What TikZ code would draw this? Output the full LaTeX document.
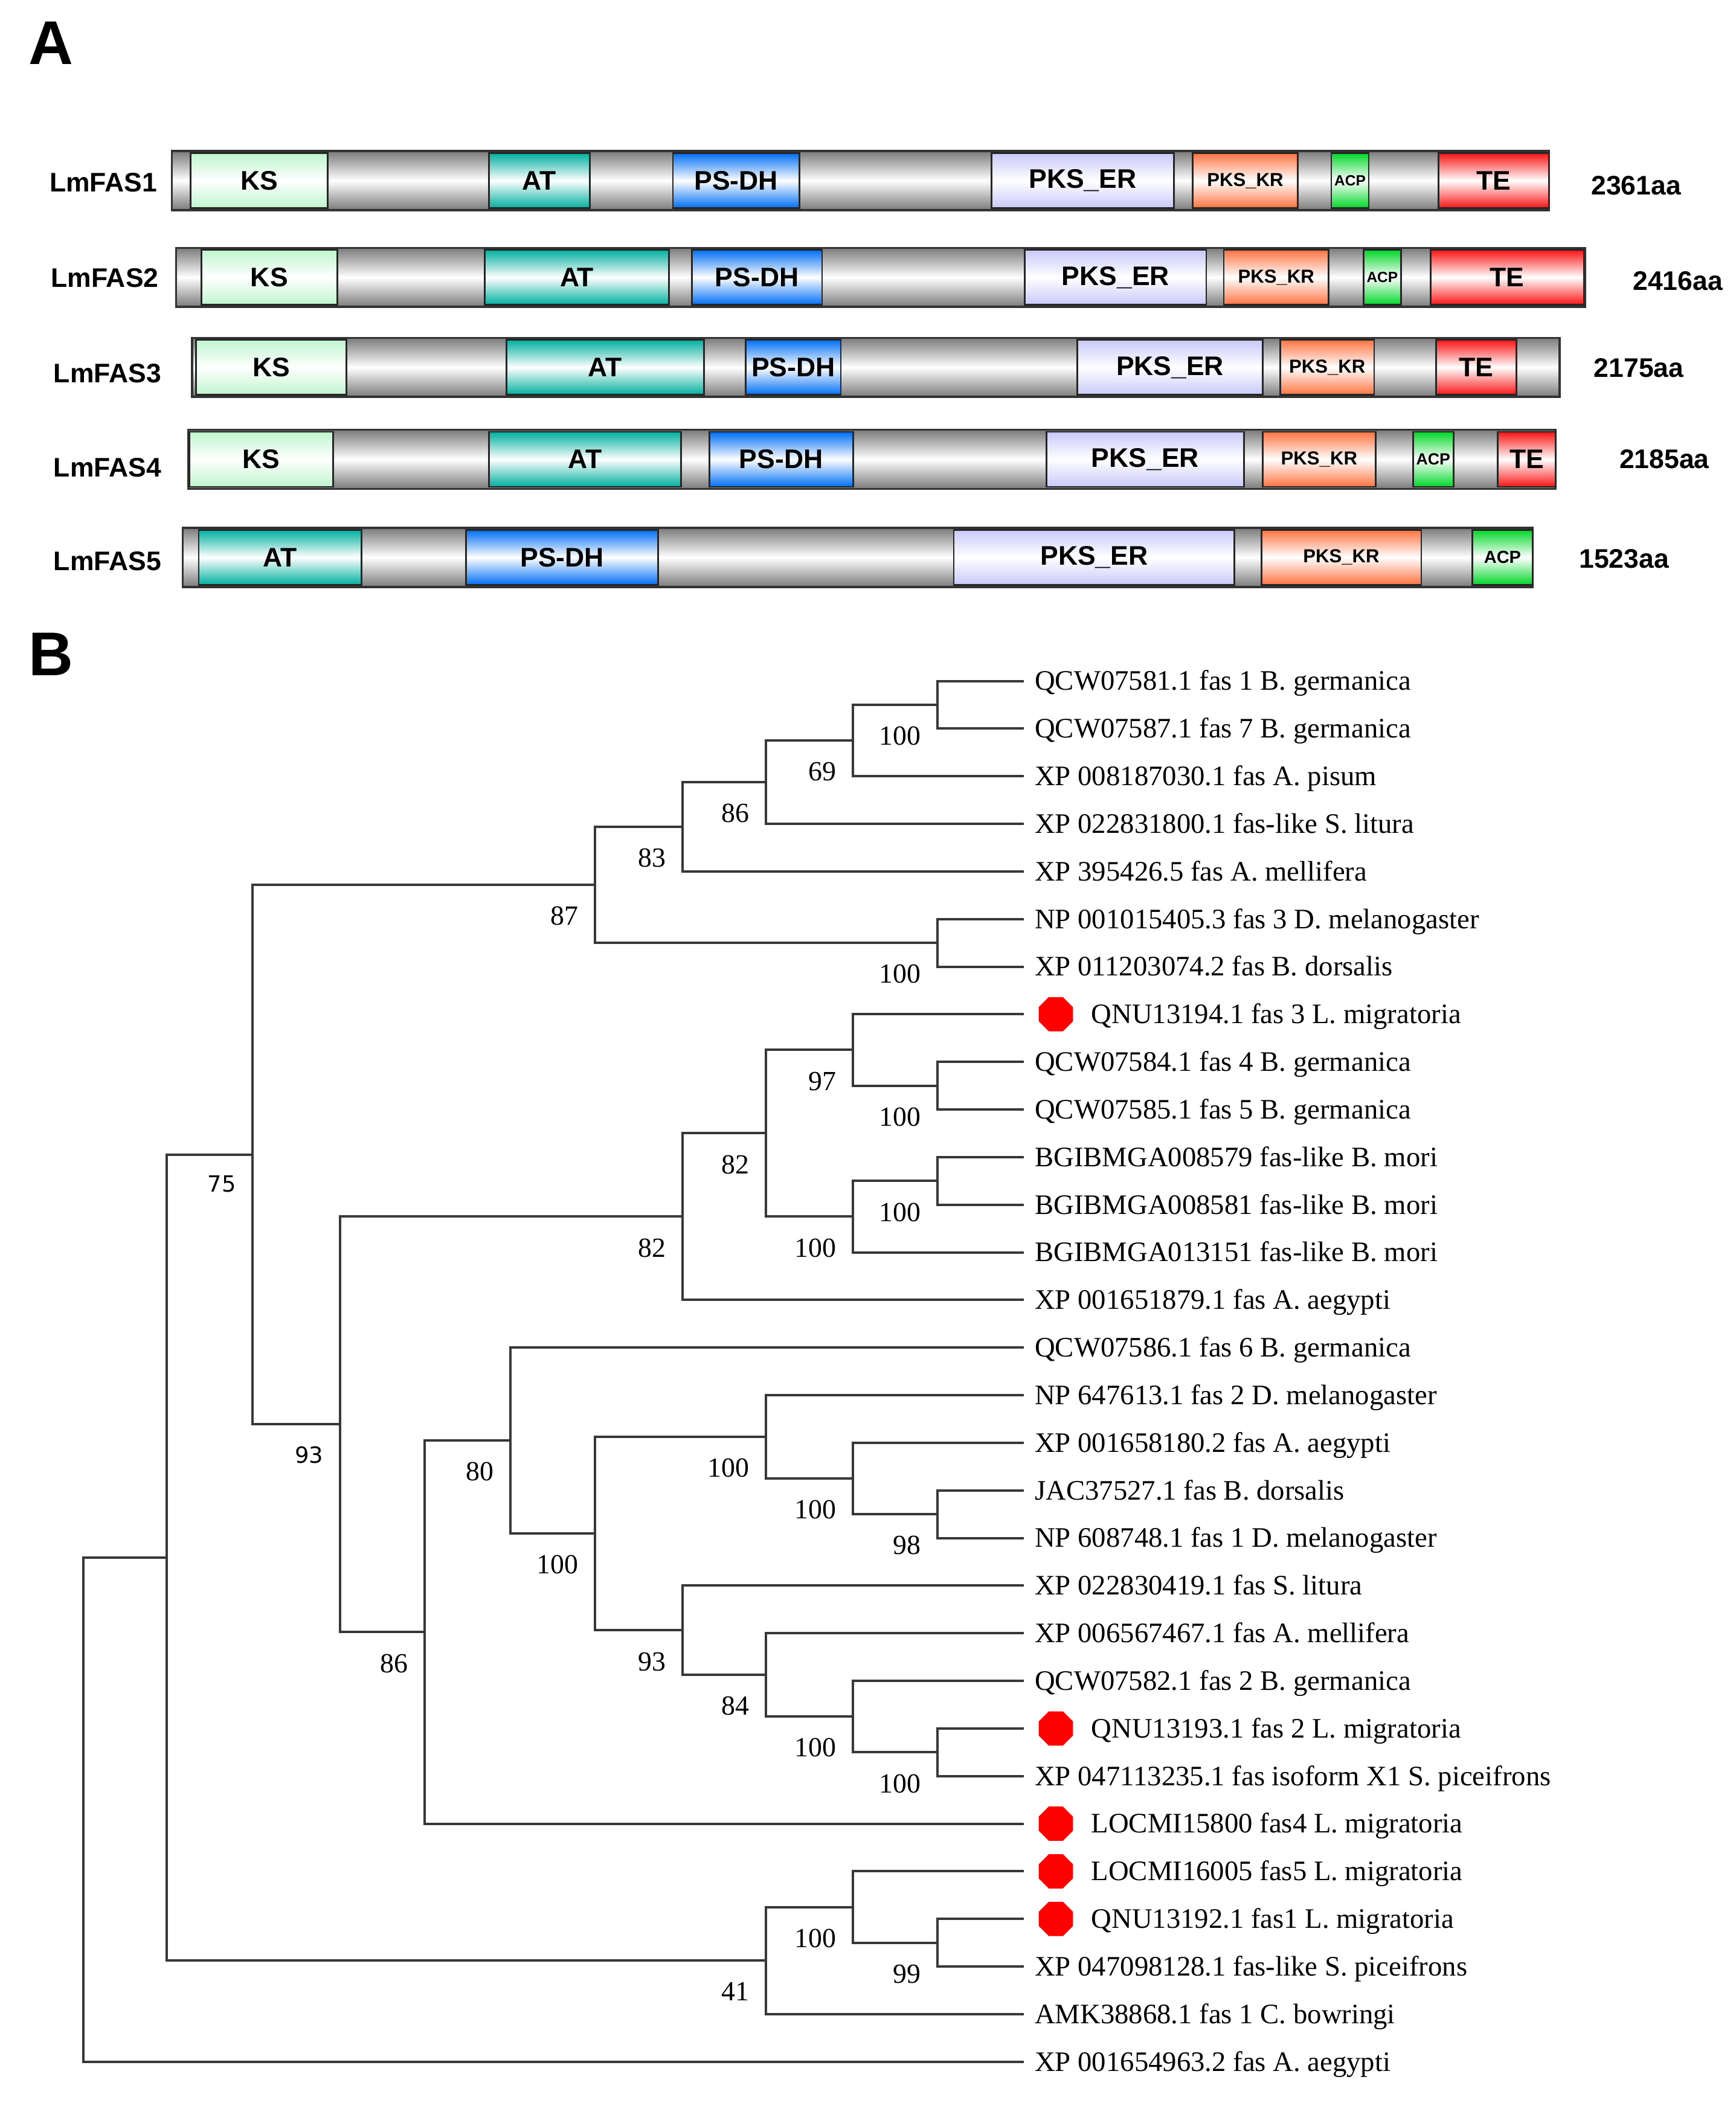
\documentclass[tikz,border=0pt]{standalone}
\usepackage{fontspec}
\setmainfont{Liberation Serif}
\newfontfamily\arialf{Liberation Sans}
\newfontfamily\dejav{DejaVu Sans}
\usetikzlibrary{shapes.geometric}
\definecolor{ksC}{RGB}{190,245,205}
\definecolor{atC}{RGB}{0,175,158}
\definecolor{dhC}{RGB}{0,110,245}
\definecolor{erC}{RGB}{200,200,250}
\definecolor{krC}{RGB}{255,115,65}
\definecolor{acpC}{RGB}{0,215,40}
\definecolor{teC}{RGB}{250,20,20}
\tikzset{
  treeline/.style={draw=black!78, line width=0.9pt},
  leaflab/.style={anchor=west, inner sep=0pt, font=\fontsize{10.5}{12}\selectfont, text height=6.9pt, text depth=0pt},
  bsl/.style={anchor=east, inner sep=0pt, font=\fontsize{10.3}{12}\selectfont, text height=7pt, text depth=0pt},
  bsls/.style={anchor=east, inner sep=0pt, font=\dejav\fontsize{8.3}{10}\selectfont, text height=6pt, text depth=0pt},
  reddot/.style={regular polygon, regular polygon sides=8, minimum size=13.8pt, fill=red, draw=none, inner sep=0pt},
  barbox/.style={draw=black!80, line width=0.8pt, top color=black!52, bottom color=black!52, middle color=white, minimum height=22pt, inner sep=0pt, outer sep=0pt},
  dombox/.style={draw=black!85, line width=0.6pt, minimum height=20.5pt, inner sep=0pt, outer sep=0pt, text=black},
  rowlab/.style={font=\arialf\bfseries\fontsize{10}{12}\selectfont, inner sep=0pt},
  panellab/.style={font=\arialf\bfseries\fontsize{23}{26}\selectfont, inner sep=0pt},
}
% name, x1, x2, yc
\newcommand\protbar[4]{\node[barbox, minimum width={(#3-#2)*0.5pt}] (#1) at ({(#2+#3)/2},#4) {};}
% name, x1, x2, yc, color, fontsize, text
\newcommand\dom[7]{\node[dombox, top color=#5, bottom color=#5, middle color=white, minimum width={(#3-#2)*0.5pt}, font=\arialf\bfseries\fontsize{#6}{#6}\selectfont] (#1) at ({(#2+#3)/2},#4) {#7};}
\begin{document}
\begin{tikzpicture}[x=0.5pt,y=-0.5pt]
\path[use as bounding box] (0,0) rectangle (1292,1568);

% ---------------- Panel A ----------------
\node[panellab] (labA) at (38,32) {A};

% LmFAS1
\protbar{bar1}{128}{1153}{134.5}
\dom{f1ks}{142}{244}{134.5}{ksC}{10}{KS}
\dom{f1at}{364}{439}{134.5}{atC}{10}{AT}
\dom{f1dh}{501}{595}{134.5}{dhC}{10}{PS-DH}
\dom{f1er}{738}{874}{134.5}{erC}{10}{PKS\_ER}
\dom{f1kr}{888}{966}{134.5}{krC}{7}{PKS\_KR}
\dom{f1acp}{991}{1019}{134.5}{acpC}{5.5}{ACP}
\dom{f1te}{1071}{1153}{134.5}{teC}{10}{TE}
\node[rowlab] (r1) at (77,136) {LmFAS1};
\node[rowlab] (len1) at (1218,138) {2361aa};

% LmFAS2
\protbar{bar2}{131}{1180}{206.5}
\dom{f2ks}{150}{251}{206.5}{ksC}{10}{KS}
\dom{f2at}{361}{498}{206.5}{atC}{10}{AT}
\dom{f2dh}{515}{612}{206.5}{dhC}{10}{PS-DH}
\dom{f2er}{763}{898}{206.5}{erC}{10}{PKS\_ER}
\dom{f2kr}{911}{989}{206.5}{krC}{7}{PKS\_KR}
\dom{f2acp}{1015}{1043}{206.5}{acpC}{5.5}{ACP}
\dom{f2te}{1065}{1179}{206.5}{teC}{10}{TE}
\node[rowlab] (r2) at (78,207) {LmFAS2};
\node[rowlab] (len2) at (1249,209) {2416aa};

% LmFAS3
\protbar{bar3}{143}{1161}{273.5}
\dom{f3ks}{146}{258}{273.5}{ksC}{10}{KS}
\dom{f3at}{377}{524}{273.5}{atC}{10}{AT}
\dom{f3dh}{555}{626}{273.5}{dhC}{10}{PS-DH}
\dom{f3er}{802}{940}{273.5}{erC}{10}{PKS\_ER}
\dom{f3kr}{953}{1023}{273.5}{krC}{7}{PKS\_KR}
\dom{f3te}{1069}{1129}{273.5}{teC}{10}{TE}
\node[rowlab] (r3) at (80,278) {LmFAS3};
\node[rowlab] (len3) at (1220,274) {2175aa};

% LmFAS4
\protbar{bar4}{140}{1158}{342}
\dom{f4ks}{141}{248}{342}{ksC}{10}{KS}
\dom{f4at}{364}{507}{342}{atC}{10}{AT}
\dom{f4dh}{528}{635}{342}{dhC}{10}{PS-DH}
\dom{f4er}{779}{926}{342}{erC}{10}{PKS\_ER}
\dom{f4kr}{940}{1024}{342}{krC}{7}{PKS\_KR}
\dom{f4acp}{1052}{1082}{342}{acpC}{6}{ACP}
\dom{f4te}{1115}{1158}{342}{teC}{10}{TE}
\node[rowlab] (r4) at (80,348) {LmFAS4};
\node[rowlab] (len4) at (1239,342) {2185aa};

% LmFAS5
\protbar{bar5}{136}{1141}{415}
\dom{f5at}{148}{269}{415}{atC}{10}{AT}
\dom{f5dh}{347}{490}{415}{dhC}{10}{PS-DH}
\dom{f5er}{710}{919}{415}{erC}{10}{PKS\_ER}
\dom{f5kr}{939}{1058}{415}{krC}{7}{PKS\_KR}
\dom{f5acp}{1096}{1141}{415}{acpC}{6.5}{ACP}
\node[rowlab] (r5) at (80,418) {LmFAS5};
\node[rowlab] (len5) at (1209,416) {1523aa};

% ---------------- Panel B ----------------
\node[panellab] (labB) at (38,487) {B};

% leaves
\foreach \i/\t/\d in {
 1/QCW07581.1 fas 1 B. germanica/0,
 2/QCW07587.1 fas 7 B. germanica/0,
 3/XP 008187030.1 fas A. pisum/0,
 4/XP 022831800.1 fas-like S. litura/0,
 5/XP 395426.5 fas A. mellifera/0,
 6/NP 001015405.3 fas 3 D. melanogaster/0,
 7/XP 011203074.2 fas B. dorsalis/0,
 8/QNU13194.1 fas 3 L. migratoria/1,
 9/QCW07584.1 fas 4 B. germanica/0,
 10/QCW07585.1 fas 5 B. germanica/0,
 11/BGIBMGA008579 fas-like B. mori/0,
 12/BGIBMGA008581 fas-like B. mori/0,
 13/BGIBMGA013151 fas-like B. mori/0,
 14/XP 001651879.1 fas A. aegypti/0,
 15/QCW07586.1 fas 6 B. germanica/0,
 16/NP 647613.1 fas 2 D. melanogaster/0,
 17/XP 001658180.2 fas A. aegypti/0,
 18/JAC37527.1 fas B. dorsalis/0,
 19/NP 608748.1 fas 1 D. melanogaster/0,
 20/XP 022830419.1 fas S. litura/0,
 21/XP 006567467.1 fas A. mellifera/0,
 22/QCW07582.1 fas 2 B. germanica/0,
 23/QNU13193.1 fas 2 L. migratoria/1,
 24/XP 047113235.1 fas isoform X1 S. piceifrons/0,
 25/LOCMI15800 fas4 L. migratoria/1,
 26/LOCMI16005 fas5 L. migratoria/1,
 27/QNU13192.1 fas1 L. migratoria/1,
 28/XP 047098128.1 fas-like S. piceifrons/0,
 29/AMK38868.1 fas 1 C. bowringi/0,
 30/XP 001654963.2 fas A. aegypti/0}{
  \coordinate (L\i) at (762,{507+(\i-1)*35.45});
  \ifnum\d=1
    \node[reddot] (D\i) at (786,{507+(\i-1)*35.45}) {};
    \node[leaflab] (T\i) at (812,{507+(\i-1)*35.45}) {\t};
  \else
    \node[leaflab] (T\i) at (770,{507+(\i-1)*35.45}) {\t};
  \fi
}

% internal nodes
\coordinate (a1) at (698,524.73);
\coordinate (a2) at (635,551.31);
\coordinate (a3) at (570,582.33);
\coordinate (a4) at (508,615.57);
\coordinate (a5) at (698,701.98);
\coordinate (a6) at (443,658.77);
\coordinate (b1) at (698,808.33);
\coordinate (b2) at (635,781.74);
\coordinate (b3) at (698,879.23);
\coordinate (b4) at (635,905.81);
\coordinate (b5) at (570,843.78);
\coordinate (b6) at (508,905.81);
\coordinate (c1) at (698,1127.38);
\coordinate (c2) at (635,1100.79);
\coordinate (c3) at (570,1069.77);
\coordinate (c4) at (698,1304.63);
\coordinate (c5) at (635,1278.04);
\coordinate (c6) at (570,1247.02);
\coordinate (c7) at (508,1213.79);
\coordinate (c8) at (443,1141.78);
\coordinate (c9) at (380,1072.54);
\coordinate (c10) at (316,1215.17);
\coordinate (d1) at (253,1060.49);
\coordinate (d2) at (188,859.63);
\coordinate (e1) at (698,1446.43);
\coordinate (e2) at (635,1419.84);
\coordinate (e3) at (570,1459.72);
\coordinate (d3) at (124,1159.68);
\coordinate (rt) at (62,1347.37);

% branches
\foreach \p/\c in {a1/L1,a1/L2,a2/a1,a2/L3,a3/a2,a3/L4,a4/a3,a4/L5,a5/L6,a5/L7,a6/a4,a6/a5,
  b1/L9,b1/L10,b2/L8,b2/b1,b3/L11,b3/L12,b4/b3,b4/L13,b5/b2,b5/b4,b6/b5,b6/L14,
  c1/L18,c1/L19,c2/L17,c2/c1,c3/L16,c3/c2,c4/L23,c4/L24,c5/L22,c5/c4,c6/L21,c6/c5,
  c7/L20,c7/c6,c8/c3,c8/c7,c9/L15,c9/c8,c10/c9,c10/L25,d1/b6,d1/c10,d2/a6,d2/d1,
  e1/L27,e1/L28,e2/L26,e2/e1,e3/e2,e3/L29,d3/d2,d3/e3,rt/d3,rt/L30}
  \draw[treeline] (\p) |- (\c);

% bootstrap values
\foreach \n/\v in {a1/100,a2/69,a3/86,a4/83,a5/100,a6/87,b1/100,b2/97,b3/100,b4/100,
  b5/82,b6/82,c1/98,c2/100,c3/100,c4/100,c5/100,c6/84,c7/93,c8/100,c9/80,c10/86,
  e1/99,e2/100,e3/41}
  \node[bsl] (bs-\n) at ([xshift=-6pt,yshift=-11.5pt]\n) {\v};
\node[bsls] (bs-d1) at ([xshift=-6pt,yshift=-11.5pt]d1) {93};
\node[bsls] (bs-d2) at ([xshift=-6pt,yshift=-11pt]d2) {75};
\end{tikzpicture}
\end{document}
